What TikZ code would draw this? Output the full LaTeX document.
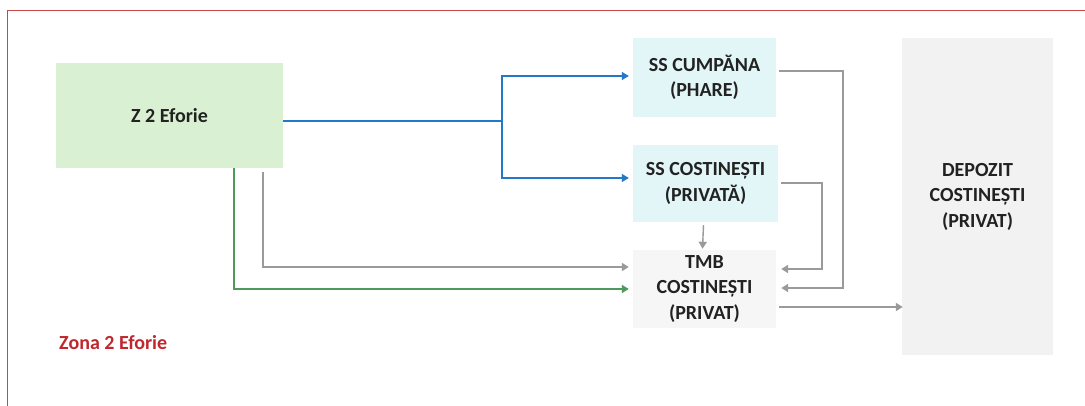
\documentclass[tikz,border=0pt]{standalone}
\usepackage{fontspec}
\setmainfont{Carlito}
\usetikzlibrary{arrows.meta}
\definecolor{frame}{HTML}{C8474A}
\definecolor{greenfill}{HTML}{D9F1D2}
\definecolor{cyanfill}{HTML}{E2F5F7}
\definecolor{tmbfill}{HTML}{F6F6F6}
\definecolor{depfill}{HTML}{F2F2F2}
\definecolor{bluel}{HTML}{2577C7}
\definecolor{greenl}{HTML}{4E9A5C}
\definecolor{grayl}{HTML}{9A9A9A}
\definecolor{txt}{HTML}{222222}
\definecolor{zona}{HTML}{C0282E}
\tikzset{
  box/.style={draw=none, align=center, inner sep=0pt, font=\fontsize{20}{25.5}\selectfont\bfseries, text=txt},
  bl/.style={draw=bluel, line width=1.3pt},
  gl/.style={draw=greenl, line width=1.6pt},
  gr/.style={draw=grayl, line width=1.8pt},
  tip/.style={-{Triangle[length=7pt,width=8pt]}},
}
\begin{document}
\begin{tikzpicture}[x=1pt,y=-1pt]
\useasboundingbox (0,0) rectangle (1085,406);
\fill[white] (0,0) rectangle (1085,406);
% frame
\draw[frame, line width=1.3pt] (7.5,406) -- (7.5,10.5) -- (1085,10.5);
% nodes
\node[box, fill=greenfill, minimum width=227pt, minimum height=105pt] (z2) at (169.5,115.5) {Z 2 Eforie};
\node[box, fill=cyanfill, minimum width=143pt, minimum height=79pt] (ss1) at (704.5,77.5) {SS CUMPĂNA\\(PHARE)};
\node[box, fill=cyanfill, minimum width=145pt, minimum height=77pt] (ss2) at (705.5,183.5) {SS COSTINEȘTI\\(PRIVATĂ)};
\node[box, fill=tmbfill, minimum width=143pt, minimum height=78pt] (tmb) at (704.5,289) {TMB\\COSTINEȘTI\\(PRIVAT)};
\node[box, fill=depfill, minimum width=151pt, minimum height=317pt] (dep) at (977.5,196.5) {DEPOZIT\\COSTINEȘTI\\(PRIVAT)};
\node[font=\fontsize{20}{25}\selectfont\bfseries, text=zona, anchor=west, inner sep=0pt] (zona) at (59,343) {Zona 2 Eforie};
% blue connectors
\coordinate (bj) at (502,121);
\draw[bl] ([yshift=-5.5pt]z2.east) -- (bj);
\draw[bl,tip] (bj) |- ([xshift=-4pt,yshift=1.5pt]ss1.west);
\draw[bl,tip] (bj) |- ([xshift=-4pt,yshift=5.5pt]ss2.west);
% from Z2 to TMB
\draw[gr,tip] ([xshift=93.5pt,yshift=-4pt]z2.south) |- ([xshift=-4pt,yshift=22pt]tmb.west);
\draw[gl,tip] ([xshift=64.5pt]z2.south) |- ([xshift=-4pt]tmb.west);
% SS2 down to TMB
\draw[gr,tip,line width=1.4pt] ([xshift=-2pt,yshift=-3pt]ss2.south) -- ([xshift=-2pt,yshift=1pt]tmb.north);
% right side loops
\draw[gr,tip] ([xshift=3pt,yshift=6.5pt]ss1.east) -- ++(64,0) |- ([xshift=5pt,yshift=1pt]tmb.east);
\draw[gr,tip] ([xshift=3pt,yshift=0.5pt]ss2.east) -- ++(41,0) |- ([xshift=5pt,yshift=20pt]tmb.east);
% TMB to depozit
\coordinate (ta) at ([xshift=3pt,yshift=-18pt]tmb.east);
\draw[gr,tip] (ta) -- ([xshift=1pt]ta -| dep.west);
\end{tikzpicture}
\end{document}
